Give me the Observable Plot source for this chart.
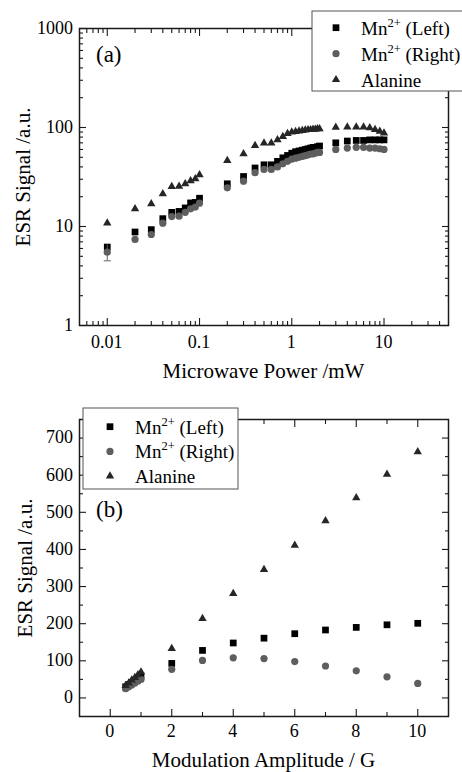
<!DOCTYPE html>
<html>
<head>
<meta charset="utf-8">
<script src="https://cdn.jsdelivr.net/npm/d3@7"></script>
<script src="https://cdn.jsdelivr.net/npm/@observablehq/plot@0.6"></script>
<style>
  body { margin: 0; background: #fff; }
  .esr-panel { position: relative; width: 462px; height: 386px; overflow: hidden; }
  .esr-panel svg { display: block; }
  .esr-lbl { position: absolute; margin: 0; padding: 0; line-height: 1; white-space: nowrap; color: #000; }
  .esr-lbl sup { font-size: 12.5px; position: relative; top: -8px; vertical-align: baseline; line-height: 0; }
</style>
</head>
<body>
<div id="esr-figure"></div>
<script>
// ---------- Data: panel (a) ESR signal vs microwave power ----------
const powerMW = [0.01,0.02,0.03,0.04,0.05,0.06,0.07,0.08,0.09,0.1,0.2,0.3,0.4,0.5,0.6,0.7,0.8,0.9,1.0,1.1,1.2,1.3,1.4,1.5,1.6,1.7,1.8,1.9,2.0,3,4,5,6,7,8,9,10];
const powerMnLeft = [6.2,8.8,9.3,12.0,13.9,14.2,15.4,17.3,17.5,19.3,27,32,39,42,42,45.5,49.4,52.2,55,57,58,59,60,61,62,63,63,64,65,70,73,74,74,75,75,75,75];
const powerMnRight = [5.5,7.4,8.3,10.8,12.6,12.7,13.9,15.1,15.7,17.2,24.6,28.7,35,37.7,37.7,40,43,45.5,48,49,50,51,52,53,54,54,55,56,56,60,62,63,63,62,62,61,60];
const powerAlanine = [10.8,15.1,16.9,21.4,25.3,25.5,27,29,30.3,33.3,46.4,54.2,65.8,69.5,69.5,75,81,86.7,89.7,91,92,93,94,95,95,96,96,97,97,100.6,101,101,101,99.4,95.5,91.6,87.7];
// error bar on the first Mn2+ (Right) point
const powerErrX = [0.01];
const powerErrLow = [4.5];
const powerErrHigh = [6.5];

// ---------- Data: panel (b) ESR signal vs modulation amplitude ----------
const modG = [0.5,0.6,0.7,0.8,0.9,1.0,2,3,4,5,6,7,8,9,10];
const modMnLeft = [30,36,42,48,53,59,93,128,148,161,173,183,190,197,201];
const modMnRight = [25,30,35,40,45,50,77,101,108,106,98,86,73,57,39];
const modAlanine = [33,40,48,55,62,70,133,214,281,346,411,477,539,602,663];

// ---------- Tick values ----------
const aXMajor = [0.01, 0.1, 1, 10];
const aXMinor = [0.006,0.007,0.008,0.009, 0.02,0.03,0.04,0.05,0.06,0.07,0.08,0.09, 0.2,0.3,0.4,0.5,0.6,0.7,0.8,0.9, 2,3,4,5,6,7,8,9, 20,30,40];
const aYMajor = [1, 10, 100, 1000];
const aYMinor = [2,3,4,5,6,7,8,9, 20,30,40,50,60,70,80,90, 200,300,400,500,600,700,800,900];
const bXMajor = [0, 2, 4, 6, 8, 10];
const bXMinor = [1, 3, 5, 7, 9];
const bYMajor = [0, 100, 200, 300, 400, 500, 600, 700];
const bYMinor = [50, 150, 250, 350, 450, 550, 650];

const seriesNames = ["Mn2+ (Left)", "Mn2+ (Right)", "Alanine"];

// ---------- Styles ----------
const SERIF = "'Liberation Serif'";
const INK = "#1a1a1a";
const symStyle = [
  {symbol: "square", r: 3.8, fill: "#000"},
  {symbol: "circle", r: 3.6, fill: "#5e5e5e"},
  {symbol: "triangle", r: 3.1, fill: "#262626"}
];

const rowsA = powerMW.map((x, i) => ({x, left: powerMnLeft[i], right: powerMnRight[i], ala: powerAlanine[i]}));
const errA = powerErrX.map((x, i) => ({x, lo: powerErrLow[i], hi: powerErrHigh[i]}));
const rowsB = modG.map((x, i) => ({x, left: modMnLeft[i], right: modMnRight[i], ala: modAlanine[i]}));

const capSymbol = {draw(ctx) { ctx.moveTo(-3.5, 0); ctx.lineTo(3.5, 0); }};

// inward ticks on all four sides (labels drawn separately)
function tickMarks(dim, major, minor) {
  const axis = dim === "x" ? Plot.axisX : Plot.axisY;
  const anchors = dim === "x" ? ["bottom", "top"] : ["left", "right"];
  return anchors.flatMap(anchor => [
    axis({ticks: major, anchor, tickSize: -7, text: null, label: null, stroke: INK, strokeWidth: 1.1}),
    axis({ticks: minor, anchor, tickSize: -4, text: null, label: null, stroke: INK, strokeWidth: 1.1})
  ]);
}

const W = 462, H = 386;
const common = {width: W, height: H, marginLeft: 79, marginRight: 14};

const plotA = Plot.plot({
  ...common,
  marginTop: 28, marginBottom: 61,
  x: {type: "log", domain: [0.005, 50], label: null},
  y: {type: "log", domain: [1, 1000], label: null},
  marks: [
    Plot.dot(rowsA, {x: "x", y: "left", ...symStyle[0]}),
    Plot.ruleX(errA, {x: "x", y1: "lo", y2: "hi", stroke: "#5e5e5e", strokeWidth: 1}),
    Plot.dot(errA, {x: "x", y: "lo", symbol: capSymbol, stroke: "#5e5e5e", strokeWidth: 1, r: 3}),
    Plot.dot(rowsA, {x: "x", y: "right", ...symStyle[1]}),
    Plot.dot(rowsA, {x: "x", y: "ala", ...symStyle[2]}),
    ...tickMarks("x", aXMajor, aXMinor),
    ...tickMarks("y", aYMajor, aYMinor),
    Plot.frame({stroke: INK, strokeWidth: 1.5})
  ]
});

const plotB = Plot.plot({
  ...common,
  marginTop: 33, marginBottom: 56,
  x: {domain: [-1, 11], label: null},
  y: {domain: [-50, 750], label: null},
  marks: [
    Plot.dot(rowsB, {x: "x", y: "left", ...symStyle[0]}),
    Plot.dot(rowsB, {x: "x", y: "right", ...symStyle[1]}),
    Plot.dot(rowsB, {x: "x", y: "ala", ...symStyle[2]}),
    ...tickMarks("x", bXMajor, bXMinor),
    ...tickMarks("y", bYMajor, bYMinor),
    Plot.frame({stroke: INK, strokeWidth: 1.5})
  ]
});

// ---------- text as HTML overlays (serif) ----------
const ASC = 0.8375; // baseline offset (em) of Liberation Serif in a line-height:1 box
function label(wrap, html, {x, baseline, size, anchor = "start"}) {
  const el = document.createElement("div");
  el.className = "esr-lbl";
  el.style.fontFamily = SERIF;
  el.style.fontSize = size + "px";
  el.style.left = x + "px";
  el.style.top = (baseline - ASC * size) + "px";
  el.style.transform = anchor === "middle" ? "translateX(-50%)" : anchor === "end" ? "translateX(-100%)" : "none";
  el.innerHTML = html;
  wrap.appendChild(el);
  return el;
}
function vlabel(wrap, text, {cx, cy, size}) {
  const el = document.createElement("div");
  el.className = "esr-lbl";
  el.style.fontFamily = SERIF;
  el.style.fontSize = size + "px";
  el.style.left = cx + "px";
  el.style.top = cy + "px";
  el.style.transform = "translate(-50%,-50%) rotate(-90deg)";
  el.textContent = text;
  wrap.appendChild(el);
}
function seriesHTML(name) {
  const m = name.match(/^Mn2\+ (.*)$/);
  return m ? `Mn<sup>2+</sup> ${m[1]}` : name;
}

function build(plot, o) {
  const wrap = document.createElement("div");
  wrap.className = "esr-panel";
  wrap.appendChild(plot);
  document.getElementById("esr-figure").appendChild(wrap);
  const sx = plot.scale("x"), sy = plot.scale("y");
  // tick labels from the plot's own scales
  o.xTicks.forEach(v => label(wrap, String(v), {x: sx.apply(v), baseline: o.xTickBase, size: 18, anchor: "middle"}));
  o.yTicks.forEach(v => label(wrap, String(v), {x: 73, baseline: sy.apply(v) + 6, size: 18, anchor: "end"}));
  // axis titles
  const cx = (o.left + (W - o.right)) / 2;
  const cy = (o.top + (H - o.bottom)) / 2;
  label(wrap, o.xTitle, {x: cx, baseline: o.xTitleBase, size: 21, anchor: "middle"});
  vlabel(wrap, o.yTitle, {cx: o.yTitleX, cy, size: 21});
  // panel letter
  label(wrap, o.letter, {x: o.letterX, baseline: o.letterBase, size: 23});
  // legend box + symbols (svg) + names (html)
  const svg = d3.select(plot);
  const g = svg.append("g");
  g.append("rect")
    .attr("x", o.lgX).attr("y", o.lgY).attr("width", o.lgW).attr("height", o.lgH)
    .attr("fill", "#fff").attr("stroke", "#555").attr("stroke-width", 1);
  const types = {square: d3.symbolSquare, circle: d3.symbolCircle, triangle: d3.symbolTriangle};
  seriesNames.forEach((name, i) => {
    const ry = o.lgRow0 + i * o.lgRowStep;
    const s = symStyle[i];
    g.append("path")
      .attr("transform", `translate(${o.lgSymX},${ry})`)
      .attr("d", d3.symbol(types[s.symbol], Math.PI * s.r * s.r)())
      .attr("fill", s.fill);
    label(wrap, seriesHTML(name), {x: o.lgTextX, baseline: ry + 7, size: 19});
  });
}

build(plotA, {
  left: 79, right: 14, top: 28, bottom: 61,
  xTicks: aXMajor, yTicks: aYMajor, xTickBase: 348,
  xTitle: "Microwave Power /mW", xTitleBase: 379,
  yTitle: "ESR Signal /a.u.", yTitleX: 23,
  letter: "(a)", letterX: 96, letterBase: 62,
  lgX: 312, lgY: 11, lgW: 200, lgH: 80,
  lgRow0: 27.7, lgRowStep: 26, lgSymX: 336, lgTextX: 361
});

build(plotB, {
  left: 79, right: 14, top: 33, bottom: 56,
  xTicks: bXMajor, yTicks: bYMajor, xTickBase: 351.5,
  xTitle: "Modulation Amplitude / G", xTitleBase: 382,
  yTitle: "ESR Signal /a.u.", yTitleX: 25,
  letter: "(b)", letterX: 96, letterBase: 131,
  lgX: 83, lgY: 22, lgW: 155, lgH: 81,
  lgRow0: 40.7, lgRowStep: 24.7, lgSymX: 110, lgTextX: 135
});
</script>
</body>
</html>
